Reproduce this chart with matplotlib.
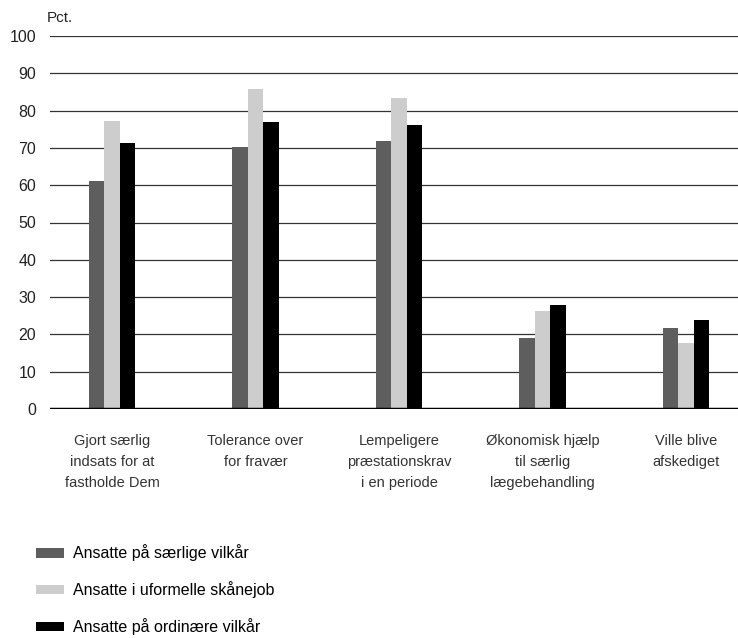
import numpy as np
import matplotlib
matplotlib.use("Agg")
from matplotlib import pyplot as plt

plt.rcParams['font.family'] = ['Liberation Sans', 'DejaVu Sans']

categories = ["Gjort særlig\nindsats for at\nfastholde Dem",
              "Tolerance over\nfor fravær",
              "Lempeligere\npræstationskrav\ni en periode",
              "Økonomisk hjælp\ntil særlig\nlægebehandling",
              "Ville blive\nafskediget"]
series_names = ["Ansatte på særlige vilkår",
                "Ansatte i uformelle skånejob",
                "Ansatte på ordinære vilkår"]
saerlige = [61.1, 70.2, 71.8, 19.0, 21.7]
uformelle = [77.2, 85.8, 83.4, 26.3, 17.7]
ordinaere = [71.3, 76.9, 76.1, 27.9, 23.9]
colors = ["#5e5e5e", "#cdcdcd", "#000000"]

fig = plt.figure(figsize=(7.38, 6.38), dpi=100)
ax = fig.add_axes([50/738, 229/638, 688/738, 373/638])

x = np.arange(len(categories))
w = 0.108
for i, (vals, name, c) in enumerate(zip([saerlige, uformelle, ordinaere], series_names, colors)):
    ax.bar(x + (i - 1) * w, vals, w, color=c, label=name, zorder=3)

ax.set_ylim(0, 100)
ax.set_xlim(-0.432, 4.362)
ax.set_yticks(np.arange(0, 101, 10))
ax.yaxis.grid(True, color="#333333", lw=0.9, zorder=0)
ax.axhline(0, color="black", lw=2.5, zorder=4)
for s in ax.spines.values():
    s.set_visible(False)
ax.tick_params(axis="y", length=0, pad=10, labelsize=11.5, labelcolor="#222222")
ax.set_xticks(x)
ax.set_xticklabels(categories, fontsize=10.5, linespacing=1.62, color="#333333")
ax.tick_params(axis="x", length=0, pad=18)

fig.text(47/738, 1 - 18/638, "Pct.", fontsize=11, color="#222222", va="center")

fig.legend(loc="upper left", bbox_to_anchor=(30/738, 1 - 538/638), frameon=False,
           fontsize=11.5, handlelength=1.75, handleheight=0.55, labelspacing=1.25,
           handletextpad=0.55, borderaxespad=0)

fig.savefig("out.png", dpi=100)
